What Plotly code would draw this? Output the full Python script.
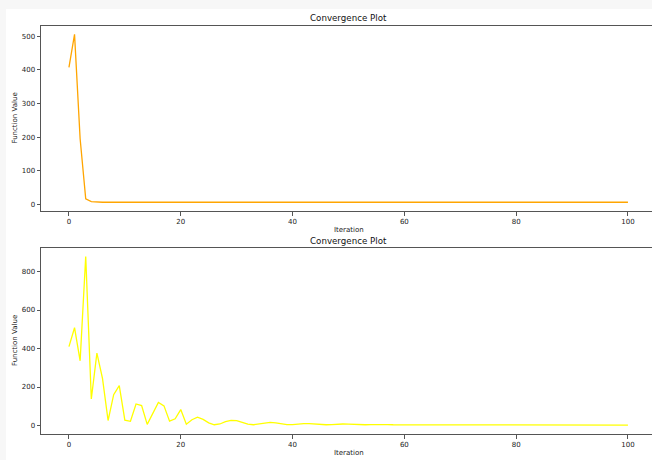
import plotly.graph_objects as go
from plotly.subplots import make_subplots

iterations = list(range(101))

top_values = [
    408, 506, 195, 16, 8, 6, 6, 6, 6, 6,
    6, 6, 6, 6, 6, 6, 6, 6, 6, 6,
    6, 6, 6, 6, 6, 6, 6, 6, 6, 6,
    6, 6, 6, 6, 6, 6, 6, 6, 6, 6,
    6, 6, 6, 6, 6, 6, 6, 6, 6, 6,
    6, 6, 6, 6, 6, 6, 6, 6, 6, 6,
    6, 6, 6, 6, 6, 6, 6, 6, 6, 6,
    6, 6, 6, 6, 6, 6, 6, 6, 6, 6,
    6, 6, 6, 6, 6, 6, 6, 6, 6, 6,
    6, 6, 6, 6, 6, 6, 6, 6, 6, 6,
    6,
]

bottom_values = [
    410, 508, 336, 878, 138, 376, 245, 26, 160, 207,
    28, 22, 112, 104, 6, 62, 120, 102, 23, 35,
    83, 7, 30, 43, 32, 14, 4, 8, 20, 27,
    25, 16, 7, 4, 8, 14, 16, 14, 9, 5,
    5, 8, 10, 10, 8, 5, 4, 5, 7, 8,
    7, 5, 4, 4, 5, 6, 6, 5, 4, 4,
    4, 5, 5, 5, 4, 4, 4, 4, 4, 4,
    4, 4, 4, 4, 3, 3, 3, 3, 3, 3,
    3, 3, 3, 3, 3, 3, 3, 3, 3, 3,
    3, 2, 2, 2, 2, 2, 2, 2, 2, 2,
    2,
]

title_text = "Convergence Plot"
x_label = "Iteration"
y_label = "Function Value"
x_ticks = [0, 20, 40, 60, 80, 100]
top_y_ticks = [0, 100, 200, 300, 400, 500]
bottom_y_ticks = [0, 200, 400, 600, 800]

W, H = 652, 460
ML, MR, MT, MB = 41, 0, 26, 26
plot_w = W - ML - MR
plot_h = H - MT - MB


def py(pix):
    return (H - MB - pix) / plot_h


def px(pix):
    return (pix - ML) / plot_w


fig = make_subplots(rows=2, cols=1)
fig.add_trace(go.Scatter(x=iterations, y=top_values, mode="lines",
                         line=dict(color="#FFA500", width=1.3), showlegend=False),
              row=1, col=1)
fig.add_trace(go.Scatter(x=iterations, y=bottom_values, mode="lines",
                         line=dict(color="#FFFF00", width=1.3), showlegend=False),
              row=2, col=1)

spine = "#555555"
tickfont = dict(family="DejaVu Sans", size=7, color="#222222")
xrange = [-5, -5 + plot_w / 5.59]

axis_common = dict(showgrid=False, zeroline=False, showline=True, linecolor=spine,
                   linewidth=1, ticks="outside", ticklen=3.5, tickwidth=0.8,
                   tickcolor=spine, tickfont=tickfont)

fig.update_layout(
    width=W, height=H,
    margin=dict(l=ML, r=MR, t=MT, b=MB, pad=0),
    paper_bgcolor="white", plot_bgcolor="white",
    xaxis=dict(domain=[0, 1], range=xrange, tickvals=x_ticks, mirror=True,
               anchor="y", **axis_common),
    yaxis=dict(domain=[py(211), py(26)], range=[-20, 531], tickvals=top_y_ticks,
               anchor="x", **axis_common),
    xaxis2=dict(domain=[0, 1], range=xrange, tickvals=x_ticks, mirror=True,
                anchor="y2", **axis_common),
    yaxis2=dict(domain=[py(434), py(248)], range=[-44, 922], tickvals=bottom_y_ticks,
                anchor="x2", **axis_common),
)

cx = px((41 + 656) / 2)
ann = []
for ty, ly, fy in [(18, 230, 118.5), (241, 452.7, 341)]:
    ann.append(dict(text=title_text, xref="paper", yref="paper", x=cx, y=py(ty),
                    xanchor="center", yanchor="middle", showarrow=False,
                    font=dict(family="DejaVu Sans", size=8.7, color="#111111")))
    ann.append(dict(text=x_label, xref="paper", yref="paper", x=cx, y=py(ly),
                    xanchor="center", yanchor="middle", showarrow=False,
                    font=dict(family="DejaVu Sans", size=7, color="#222222")))
    ann.append(dict(text=y_label, xref="paper", yref="paper", x=px(15), y=py(fy),
                    xanchor="center", yanchor="middle", showarrow=False, textangle=-90,
                    font=dict(family="DejaVu Sans", size=7, color="#222222")))
fig.update_layout(annotations=ann)

band = "#f7f7f7"
fig.update_layout(shapes=[
    dict(type="rect", xref="paper", yref="paper", x0=px(0), x1=px(6), y0=py(H), y1=py(0),
         fillcolor=band, line=dict(width=0), layer="above"),
    dict(type="rect", xref="paper", yref="paper", x0=px(0), x1=px(W), y0=py(9), y1=py(0),
         fillcolor=band, line=dict(width=0), layer="above"),
])

fig.write_html("out.html")
